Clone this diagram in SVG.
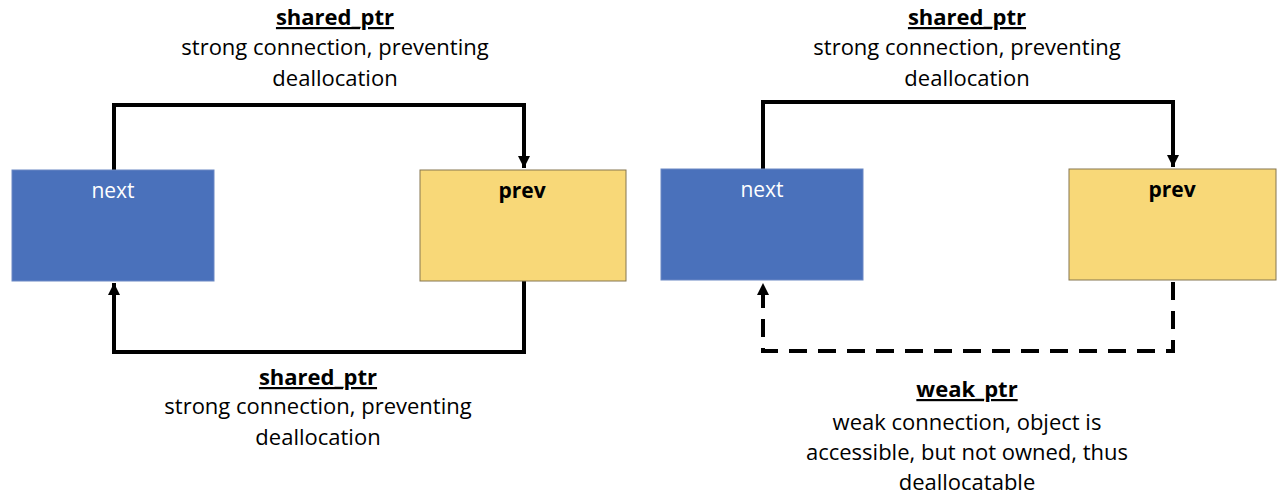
<svg xmlns="http://www.w3.org/2000/svg" width="1285" height="502" viewBox="0 0 1285 502">
<defs>
<style>
.t{font-family:"Open Sans","Liberation Sans",sans-serif;font-size:22px;fill:#000;text-anchor:middle}
.h{font-weight:bold;text-decoration:underline}
.blue{fill:#4A71BB;stroke:#6A88C4;stroke-width:1}
.yel{fill:#F8D878;stroke:#857650;stroke-width:1}
.lab{font-family:"Open Sans","Liberation Sans",sans-serif;font-size:21px;text-anchor:middle}
.c{fill:none;stroke:#000;stroke-width:4}
.d{stroke-dasharray:18 11}
</style>
<marker id="ah" viewBox="0 0 10 10" refX="10" refY="5" markerWidth="3" markerHeight="3.2" orient="auto" markerUnits="strokeWidth">
<path d="M0,0 L10,5 L0,10 z" fill="#000"/>
</marker>
</defs>
<rect width="1285" height="502" fill="#fff"/>
<g id="connectors">
<path class="c" d="M114,170 V105 H524 V168" marker-end="url(#ah)"/>
<path class="c" d="M524,281 V352 H114 V283" marker-end="url(#ah)"/>
<path class="c" d="M763,169 V102 H1173 V167" marker-end="url(#ah)"/>
<path class="c d" d="M1173,282 V351 H763 V283" marker-end="url(#ah)"/>
</g>
<g id="next-left"><rect class="blue" x="12" y="170" width="202" height="111"/><text class="lab" x="113" y="198" fill="#fff">next</text></g>
<g id="prev-left"><rect class="yel" x="420" y="170" width="206" height="111"/><text class="lab" x="522" y="198" font-weight="bold" fill="#000">prev</text></g>
<g id="next-right"><rect class="blue" x="661" y="169" width="202" height="111"/><text class="lab" x="762" y="197" fill="#fff">next</text></g>
<g id="prev-right"><rect class="yel" x="1069" y="169" width="207" height="111"/><text class="lab" x="1172" y="197" font-weight="bold" fill="#000">prev</text></g>
<g id="label-top-left">
<text class="t h" x="335" y="25">shared_ptr</text>
<text class="t" x="335" y="55">strong connection, preventing</text>
<text class="t" x="335" y="86">deallocation</text>
</g>
<g id="label-bottom-left">
<text class="t h" x="318" y="385">shared_ptr</text>
<text class="t" x="318" y="414">strong connection, preventing</text>
<text class="t" x="318" y="445">deallocation</text>
</g>
<g id="label-top-right">
<text class="t h" x="967" y="25">shared_ptr</text>
<text class="t" x="967" y="55">strong connection, preventing</text>
<text class="t" x="967" y="86">deallocation</text>
</g>
<g id="label-bottom-right">
<text class="t h" x="967" y="397">weak_ptr</text>
<text class="t" x="967" y="430">weak connection, object is</text>
<text class="t" x="967" y="460">accessible, but not owned, thus</text>
<text class="t" x="967" y="490">deallocatable</text>
</g>
</svg>
